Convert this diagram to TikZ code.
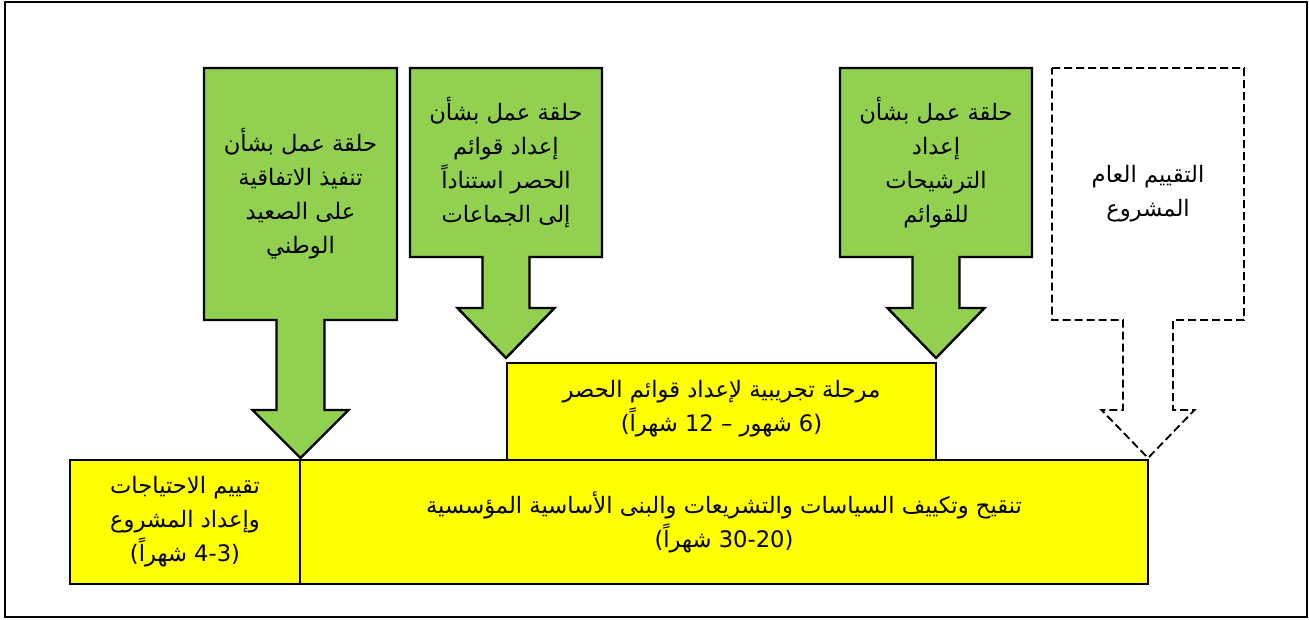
\documentclass[tikz,border=0pt]{standalone}
\usepackage{fontspec}
\usepackage{tikz}
\newfontfamily\arabicfont[Script=Arabic]{DejaVu Sans}
\TeXXeTstate=1
\newcommand{\ar}[1]{\beginR#1\endR}
\newcommand{\arnum}[1]{\beginL#1\endL{}}
\newcommand{\dncallout}[9]{%
  \draw[#1] (#2,#4) -- (#3,#4) -- (#3,#5)
    -- ({(#2+#3)/2+#6},#5) -- ({(#2+#3)/2+#6},#8)
    -- ({(#2+#3)/2+#7},#8) -- ({(#2+#3)/2},#9)
    -- ({(#2+#3)/2-#7},#8) -- ({(#2+#3)/2-#6},#8)
    -- ({(#2+#3)/2-#6},#5) -- (#2,#5) -- cycle;}
\definecolor{callgreen}{HTML}{92D050}
\definecolor{boxyellow}{HTML}{FFFF00}
\tikzset{
  frame/.style={line width=2pt},
  ybox/.style={draw, line width=1.8pt, fill=boxyellow},
  gcall/.style={draw, line width=1.8pt, fill=callgreen, line join=miter},
  wcall/.style={draw, line width=1.4pt, fill=white, dash pattern=on 6pt off 3pt},
  txt/.style={font=\arabicfont\fontsize{17}{25.5}\selectfont, align=center, text=black},
}
\begin{document}
\begin{tikzpicture}[x=0.75pt,y=-0.75pt]
  \useasboundingbox (0,0) rectangle (1309,619);
  \draw[frame] (5,2) rectangle (1307,617);
  % workshops
  \dncallout{gcall}{204}{397}{68}{320}{24}{48}{410}{458}
  \dncallout{gcall}{410}{602}{68}{257}{23.5}{48.5}{308}{358}
  \dncallout{gcall}{840}{1032}{68}{257}{23.5}{48.5}{308}{358}
  \dncallout{wcall}{1052}{1244}{68}{320}{25}{46.5}{410}{458}
  \node[txt] (ws1) at (300.5,194) {\ar{حلقة عمل بشأن}\\\ar{تنفيذ الاتفاقية}\\\ar{على الصعيد}\\\ar{الوطني}};
  \node[txt] (ws2) at (506,162.5) {\ar{حلقة عمل بشأن}\\\ar{إعداد قوائم}\\\ar{الحصر استناداً}\\\ar{إلى الجماعات}};
  \node[txt] (ws3) at (936,162.5) {\ar{حلقة عمل بشأن}\\\ar{إعداد}\\\ar{الترشيحات}\\\ar{للقوائم}};
  \node[txt] (eval) at (1148,194) {\ar{التقييم العام}\\\ar{المشروع}};
  % phases
  \draw[ybox] (507,363) rectangle (936,460);
  \draw[ybox] (70,460) rectangle (300,584);
  \draw[ybox] (300,460) rectangle (1148,584);
  \node[txt] (pilot) at (721.5,409) {\ar{مرحلة تجريبية لإعداد قوائم الحصر}\\\ar{(\arnum{6} شهور – \arnum{12} شهراً)}};
  \node[txt] (needs) at (185,522) {\ar{تقييم الاحتياجات}\\\ar{وإعداد المشروع}\\\ar{(\arnum{4-3} شهراً)}};
  \node[txt] (policy) at (724,522) {\ar{تنقيح وتكييف السياسات والتشريعات والبنى الأساسية المؤسسية}\\\ar{(\arnum{30-20} شهراً)}};
\end{tikzpicture}
\end{document}
